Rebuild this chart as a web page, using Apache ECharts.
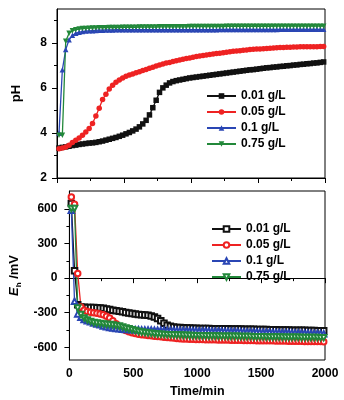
<!DOCTYPE html>
<html>
<head>
<meta charset="utf-8">
<script src="https://cdn.jsdelivr.net/npm/echarts@6/dist/echarts.min.js"></script>
<style>
html, body { margin: 0; padding: 0; background: #fff; }
#chart { width: 344px; height: 400px; }
</style>
</head>
<body>
<div id="chart"></div>
<script>
// sampling times (min), shared by every curve
var times = [
  15, 40, 65, 90, 115, 140, 165, 190, 215, 240,
  265, 290, 315, 340, 365, 390, 415, 440, 465, 490,
  515, 540, 565, 590, 615, 640, 665, 690, 715, 740,
  765, 790, 815, 840, 865, 890, 915, 940, 965, 990,
  1015, 1040, 1065, 1090, 1115, 1140, 1165, 1190, 1215, 1240,
  1265, 1290, 1315, 1340, 1365, 1390, 1415, 1440, 1465, 1490,
  1515, 1540, 1565, 1590, 1615, 1640, 1665, 1690, 1715, 1740,
  1765, 1790, 1815, 1840, 1865, 1890, 1915, 1940, 1965, 1990
];
var doses = ['0.01 g/L', '0.05 g/L', '0.1 g/L', '0.75 g/L'];

// pH
var ph001 = [
  3.33, 3.36, 3.38, 3.41, 3.44, 3.46, 3.49, 3.51, 3.53, 3.55,
  3.56, 3.58, 3.61, 3.64, 3.68, 3.72, 3.76, 3.80, 3.85, 3.90,
  3.96, 4.02, 4.09, 4.17, 4.27, 4.40, 4.56, 4.80, 5.12, 5.45,
  5.80, 6.00, 6.12, 6.22, 6.28, 6.32, 6.35, 6.38, 6.41, 6.44,
  6.46, 6.48, 6.50, 6.52, 6.54, 6.56, 6.58, 6.60, 6.62, 6.64,
  6.66, 6.68, 6.70, 6.72, 6.74, 6.76, 6.78, 6.80, 6.81, 6.83,
  6.85, 6.87, 6.89, 6.90, 6.92, 6.93, 6.95, 6.96, 6.98, 6.99,
  7.01, 7.02, 7.04, 7.05, 7.07, 7.08, 7.10, 7.11, 7.13, 7.15
];
var ph005 = [
  3.30, 3.33, 3.38, 3.45, 3.58, 3.68, 3.78, 3.90, 4.04, 4.20,
  4.42, 4.75, 5.10, 5.48, 5.72, 5.95, 6.12, 6.25, 6.35, 6.44,
  6.51, 6.57, 6.62, 6.67, 6.72, 6.77, 6.82, 6.87, 6.92, 6.97,
  7.02, 7.06, 7.10, 7.13, 7.17, 7.20, 7.24, 7.27, 7.30, 7.33,
  7.36, 7.39, 7.41, 7.44, 7.46, 7.48, 7.50, 7.52, 7.54, 7.56,
  7.58, 7.60, 7.62, 7.64, 7.65, 7.67, 7.68, 7.70, 7.71, 7.72,
  7.73, 7.74, 7.75, 7.76, 7.77, 7.78, 7.79, 7.79, 7.80, 7.80,
  7.81, 7.81, 7.82, 7.82, 7.82, 7.83, 7.83, 7.83, 7.84, 7.84
];
var ph01 = [
  4.00, 6.80, 7.70, 8.13, 8.33, 8.42, 8.47, 8.50, 8.52, 8.53,
  8.54, 8.55, 8.56, 8.56, 8.57, 8.57, 8.57, 8.58, 8.58, 8.58,
  8.58, 8.58, 8.58, 8.58, 8.58, 8.58, 8.58, 8.58, 8.58, 8.58,
  8.58, 8.58, 8.58, 8.58, 8.58, 8.58, 8.58, 8.58, 8.58, 8.58,
  8.58, 8.58, 8.58, 8.58, 8.58, 8.58, 8.58, 8.58, 8.59, 8.59,
  8.59, 8.59, 8.59, 8.59, 8.59, 8.59, 8.59, 8.59, 8.59, 8.59,
  8.59, 8.59, 8.59, 8.59, 8.59, 8.59, 8.60, 8.60, 8.60, 8.60,
  8.60, 8.60, 8.60, 8.60, 8.60, 8.60, 8.60, 8.60, 8.60, 8.60
];
var ph075 = [
  3.90, 3.90, 8.07, 8.42, 8.53, 8.58, 8.61, 8.63, 8.64, 8.65,
  8.66, 8.66, 8.67, 8.67, 8.67, 8.68, 8.68, 8.68, 8.68, 8.69,
  8.69, 8.69, 8.69, 8.69, 8.70, 8.70, 8.70, 8.70, 8.70, 8.70,
  8.71, 8.71, 8.71, 8.71, 8.71, 8.71, 8.71, 8.71, 8.71, 8.72,
  8.72, 8.72, 8.72, 8.72, 8.72, 8.72, 8.72, 8.72, 8.72, 8.72,
  8.73, 8.73, 8.73, 8.73, 8.73, 8.73, 8.73, 8.73, 8.73, 8.73,
  8.73, 8.73, 8.73, 8.73, 8.74, 8.74, 8.74, 8.74, 8.74, 8.74,
  8.74, 8.74, 8.74, 8.74, 8.74, 8.74, 8.74, 8.74, 8.74, 8.74
];

// Eh (mV)
var eh001 = [
  648, 64, -230, -250, -253, -254, -255, -255, -256, -258,
  -262, -268, -273, -278, -283, -287, -292, -297, -302, -307,
  -312, -315, -318, -320, -322, -328, -338, -350, -370, -392,
  -408, -418, -424, -427, -429, -431, -432, -433, -434, -435,
  -436, -436, -437, -437, -438, -438, -439, -439, -440, -440,
  -441, -441, -442, -442, -443, -443, -444, -444, -445, -445,
  -446, -446, -447, -447, -448, -449, -449, -450, -450, -451,
  -452, -452, -453, -453, -454, -455, -455, -456, -456, -457
];
var eh005 = [
  705, 641, 40, -250, -278, -290, -296, -300, -304, -310,
  -318, -330, -345, -370, -395, -420, -440, -455, -465, -474,
  -480, -486, -490, -494, -497, -500, -503, -506, -509, -512,
  -515, -518, -520, -523, -525, -527, -528, -530, -531, -532,
  -533, -533, -534, -534, -535, -535, -536, -536, -537, -537,
  -538, -538, -539, -539, -540, -540, -541, -541, -542, -542,
  -543, -543, -544, -544, -545, -545, -546, -546, -547, -547,
  -548, -548, -548, -549, -549, -549, -550, -550, -550, -551
];
var eh01 = [
  590, -200, -310, -340, -358, -370, -378, -390, -398, -405,
  -415, -422, -428, -433, -437, -440, -443, -445, -446, -447,
  -448, -448, -449, -449, -450, -450, -451, -451, -452, -452,
  -453, -453, -454, -454, -455, -455, -456, -456, -457, -457,
  -458, -458, -459, -459, -460, -460, -461, -461, -462, -462,
  -463, -463, -464, -464, -465, -466, -466, -467, -467, -468,
  -469, -469, -470, -471, -471, -472, -473, -473, -474, -475,
  -475, -476, -477, -477, -478, -479, -479, -480, -481, -482
];
var eh075 = [
  604, 604, -260, -315, -345, -362, -375, -385, -390, -393,
  -397, -400, -403, -406, -410, -416, -424, -432, -440, -447,
  -455, -462, -468, -472, -476, -479, -482, -484, -486, -488,
  -490, -491, -492, -493, -494, -495, -496, -497, -498, -499,
  -499, -500, -500, -501, -501, -502, -502, -503, -503, -504,
  -504, -505, -505, -506, -506, -507, -507, -508, -508, -509,
  -509, -510, -510, -510, -511, -511, -512, -512, -512, -513,
  -513, -513, -514, -514, -514, -515, -515, -515, -516, -516
];

var phLabels = [2, 4, 6, 8];
var phMinor = [3, 5, 7, 9];
var ehLabels = [-600, -300, 0, 300, 600];
var ehMinor = [-450, -150, 150, 450];

var colors = ['#111111', '#ee2222', '#2a46b4', '#22883a'];
var filledSymbols = ['rect', 'circle', 'triangle', 'triangle'];
var emptySymbols = ['emptyRect', 'emptyCircle', 'emptyTriangle', 'emptyTriangle'];
var rotations = [0, 0, 0, 180];

var font = 'Liberation Sans, Arial, sans-serif';

function pairs(vals) {
  return times.map(function (t, i) { return [t, vals[i]]; });
}

function makeSeries(prefix, values, symbols, panel) {
  return values.map(function (vals, i) {
    return {
      name: prefix + doses[i],
      type: 'line',
      xAxisIndex: panel,
      yAxisIndex: panel === 0 ? 0 : 2,
      data: pairs(vals),
      symbol: symbols[i],
      symbolRotate: rotations[i],
      symbolSize: 5.5,
      color: colors[i],
      lineStyle: { width: 1.3, color: colors[i] },
      itemStyle: { color: colors[i], borderColor: colors[i], borderWidth: panel === 0 ? 0 : 1 },
      animation: false
    };
  });
}

function tickAxis(grid, min, max, labels, minor, name, gap, margin) {
  return [{
    type: 'value', gridIndex: grid, position: 'left', min: min, max: max,
    name: name, nameLocation: 'middle', nameGap: gap,
    nameTextStyle: {
      fontFamily: font, fontWeight: 'bold', fontSize: 13, color: '#000',
      rich: {
        e: { fontFamily: font, fontWeight: 'bold', fontStyle: 'italic', fontSize: 13, color: '#000' },
        s: { fontFamily: font, fontWeight: 'bold', fontSize: 8, color: '#000', padding: [8, 0, 0, 0] },
        r: { fontFamily: font, fontWeight: 'bold', fontSize: 13, color: '#000' }
      }
    },
    axisLine: { show: true, lineStyle: { color: '#000', width: 1 } },
    axisTick: { show: true, length: 5, customValues: labels, lineStyle: { color: '#000' } },
    axisLabel: { customValues: labels, margin: margin, fontFamily: font, fontWeight: 'bold', fontSize: 12, color: '#000' },
    splitLine: { show: false }
  }, {
    type: 'value', gridIndex: grid, position: 'left', offset: 0, min: min, max: max,
    axisLine: { show: false },
    axisTick: { show: true, length: 3, customValues: minor, lineStyle: { color: '#000' } },
    axisLabel: { show: false },
    splitLine: { show: false }
  }];
}

function timeAxis(grid, showLabels) {
  return {
    type: 'value', gridIndex: grid, min: 0, max: 2000, interval: 500,
    name: showLabels ? 'Time/min' : '', nameLocation: 'middle', nameGap: 25,
    nameTextStyle: { fontFamily: font, fontWeight: 'bold', fontSize: 12.5, color: '#000' },
    axisLine: { show: true, lineStyle: { color: '#000', width: 1 } },
    axisTick: { show: true, length: 5, lineStyle: { color: '#000' } },
    minorTick: { show: true, splitNumber: 2, length: 3, lineStyle: { color: '#000' } },
    axisLabel: {
      show: showLabels, margin: 8, fontFamily: font, fontWeight: 'bold', fontSize: 12, color: '#000',
      formatter: function (v) { return String(v); }
    },
    splitLine: { show: false }
  };
}

function legend(prefix, left, top) {
  return {
    left: left, top: top, orient: 'vertical', padding: 0,
    data: doses.map(function (d) { return prefix + d; }),
    formatter: function (n) { return n.slice(prefix.length); },
    itemWidth: 29, itemHeight: 7, itemGap: 2,
    selectedMode: false,
    textStyle: { fontFamily: font, fontWeight: 'bold', fontSize: 12, color: '#000', lineHeight: 14 }
  };
}

var chart = echarts.init(document.getElementById('chart'), null, { renderer: 'canvas' });
chart.setOption({
  backgroundColor: '#fff',
  animation: false,
  grid: [
    { left: 57, right: 19, top: 9, height: 169, show: true, borderColor: '#000', borderWidth: 1 },
    { left: 57, right: 19, top: 191, height: 169, show: true, borderColor: '#000', borderWidth: 1 }
  ],
  xAxis: [timeAxis(0, false), timeAxis(1, true)],
  yAxis: tickAxis(0, 2, 9.5, phLabels, phMinor, 'pH', 34, 10)
    .concat(tickAxis(1, -710, 756, ehLabels, ehMinor, '{e|E}{s|h}{r| /mV}', 36, 12)),
  legend: [legend('a ', 206, 89), legend('b ', 211, 222)],
  series: makeSeries('a ', [ph001, ph005, ph01, ph075], filledSymbols, 0)
    .concat(makeSeries('b ', [eh001, eh005, eh01, eh075], emptySymbols, 1))
});
</script>
</body>
</html>
